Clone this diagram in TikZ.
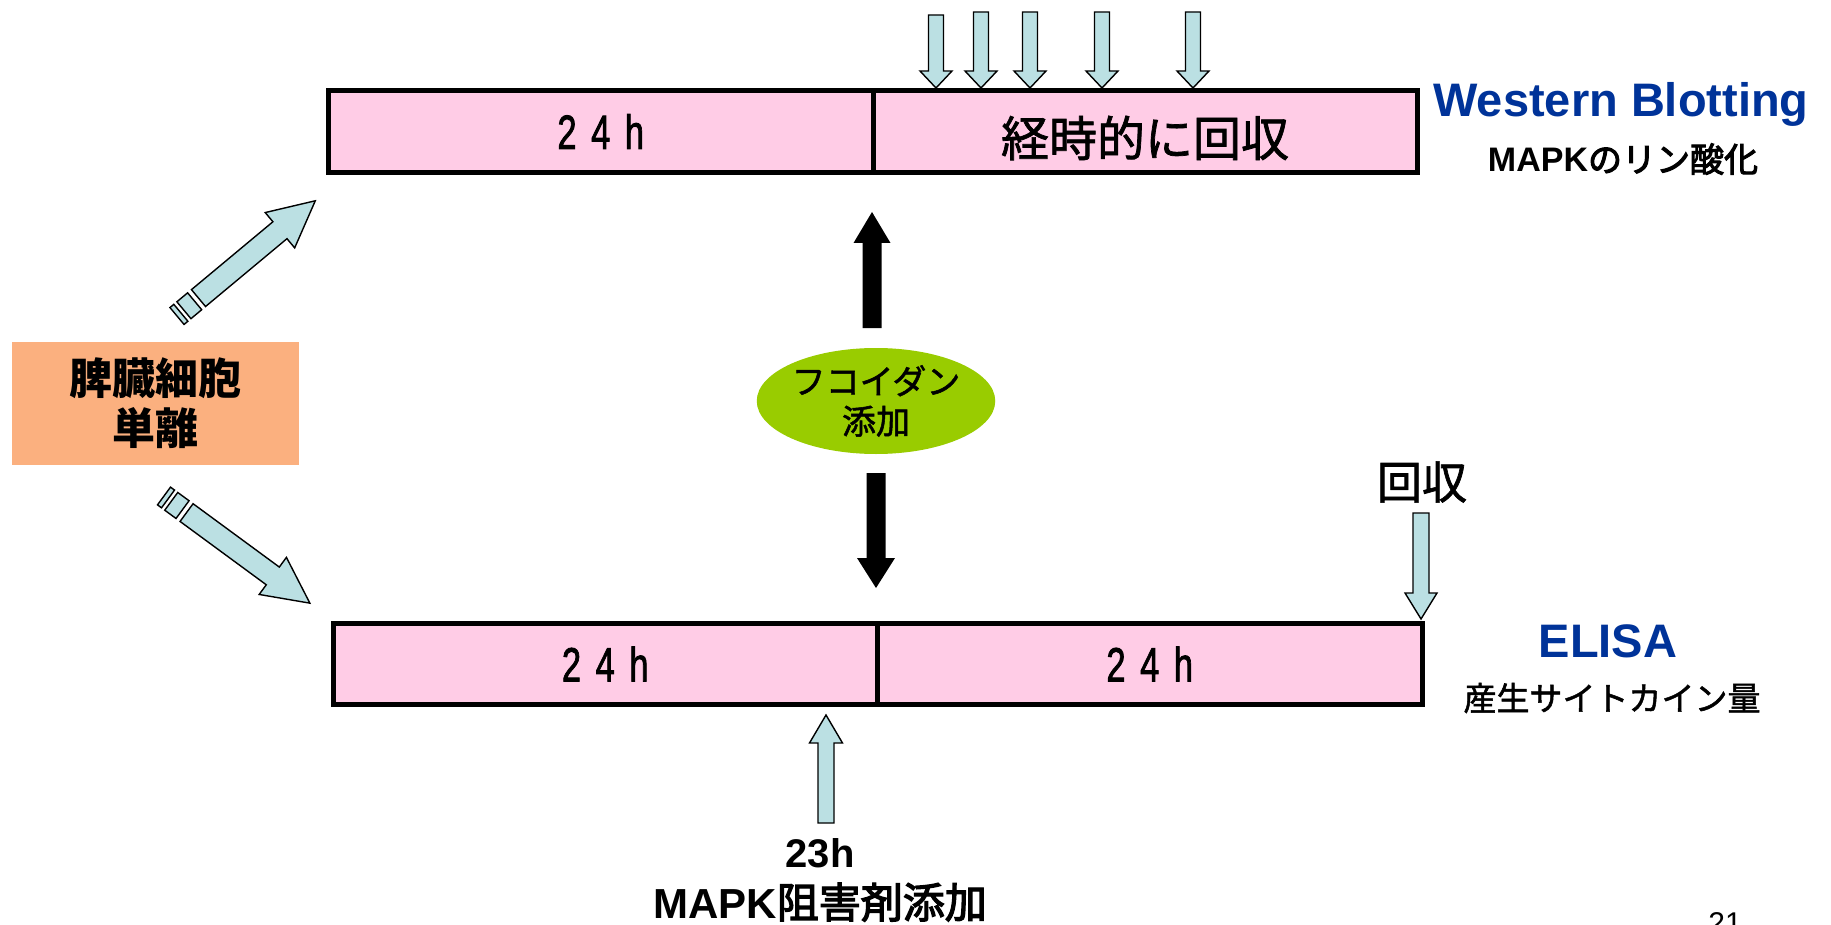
\documentclass[tikz,border=0pt]{standalone}
\usepackage{fontspec}
\usetikzlibrary{shapes.geometric}
\setmainfont{Liberation Sans}
\newfontfamily\jp[FakeBold=1.5]{Noto Sans CJK JP}
\newfontfamily\jpm[FakeBold=3]{Noto Sans CJK JP}
\newfontfamily\jpb{Noto Sans CJK JP}
\newfontfamily\hrsfont[FakeBold=2]{Liberation Sans}
\definecolor{barpink}{HTML}{FFCCE6}
\definecolor{arrowblue}{HTML}{BBE0E3}
\definecolor{boxorange}{HTML}{FBB07F}
\definecolor{fucgreen}{HTML}{99CC00}
\definecolor{titleblue}{HTML}{003399}
\newcommand\fs[1]{\fontsize{#1pt}{1.2\dimexpr#1pt\relax}\selectfont}
\newcommand\hrstext{{\hrsfont\fs{24}\scalebox{0.72}[1]{2\hspace{0.42em}4\hspace{0.42em}h}}}
% vertical block arrow: style, x, tail y, tip y, shaft half, head half, head base y
\newcommand\varrow[7]{\path[#1] (#2-#5,#3) -- (#2+#5,#3) -- (#2+#5,#7) -- (#2+#6,#7) -- (#2,#4) -- (#2-#6,#7) -- (#2-#5,#7) -- cycle;}
% striped arrow: style, shift, rotation, length
\newcommand\stripearrow[4]{\begin{scope}[shift={#2},rotate=#3]
  \path[#1] (0,-11) rectangle (5,11);
  \path[#1] (9,-11) rectangle (23,11);
  \path[#1] (28,-11) -- (#4-46,-11) -- (#4-46,-23) -- (#4,0) -- (#4-46,23) -- (#4-46,11) -- (28,11) -- cycle;
\end{scope}}
\begin{document}
\begin{tikzpicture}[x=0.5pt,y=-0.5pt,
  seg/.style={draw=black,line width=2.5pt,fill=barpink,inner sep=0pt},
  bluearrow/.style={draw=black,line width=0.7pt,fill=arrowblue,line join=miter},
  blackarrow/.style={fill=black},
  jptext/.style={font=\jp\fs{#1},inner sep=0pt},
  title/.style={font=\bfseries\fs{23.5},text=titleblue,inner sep=0pt,anchor=base}]
\useasboundingbox (0,0) rectangle (1831,925);
\clip (0,0) rectangle (1831,925);
\fill[white] (0,0) rectangle (1831,925);

% top bar
\node[seg,minimum width=272.25pt,minimum height=41pt] (top1) at (600.75,131.5) {\hrstext};
\node[seg,minimum width=272.25pt,minimum height=41pt] (top2) at (1145.25,131.5) {};
\node[jptext=24] (top2txt) at (1145,138) {経時的に回収};

% bottom bar
\node[seg,minimum width=271.75pt,minimum height=40.5pt] (bot1) at (605.25,664) {\hrstext};
\node[seg,minimum width=272.75pt,minimum height=40.5pt] (bot2) at (1149.75,664) {\hrstext};

% top sampling arrows
\varrow{bluearrow}{936}{15}{88}{7.5}{16}{71}
\varrow{bluearrow}{981}{12}{88}{7.5}{16}{71}
\varrow{bluearrow}{1030}{12}{88}{7.5}{16}{71}
\varrow{bluearrow}{1102}{12}{88}{7.5}{16}{71}
\varrow{bluearrow}{1193}{12}{88}{7.5}{16}{71}

% bottom collection arrow and label
\varrow{bluearrow}{1421}{513}{619}{8}{16}{593}
\node[jptext=22.5] (kaishu) at (1422,482) {回収};

% inhibitor arrow
\varrow{bluearrow}{826}{823}{715}{8}{16.5}{743}
\node[font=\bfseries\fs{20},inner sep=0pt,anchor=base] (t23h) at (820,867) {23h};
\node[inner sep=0pt,anchor=base] (inhib) at (820,918) {\fs{21}\textbf{MAPK}{\jpm 阻害剤添加}};

% fucoidan
\node[ellipse,fill=fucgreen,minimum width=114pt,minimum height=53pt,inner sep=0pt,align=center,font=\jp\fontsize{17pt}{20pt}\selectfont] (fuc) at (876,401) {フコイダン\\添加};
\varrow{blackarrow}{872}{328}{212}{9.5}{18.5}{243}
\varrow{blackarrow}{876}{473}{588}{9.5}{19}{558}

% spleen cells box
\node[fill=boxorange,minimum width=143.5pt,minimum height=61.5pt,inner sep=0pt,align=center,font=\jpb\bfseries\fontsize{21.5pt}{25pt}\selectfont] (cells) at (155.5,403.5) {脾臓細胞\\単離};
\stripearrow{bluearrow}{(177,316)}{39.8}{180}
\stripearrow{bluearrow}{(164,496)}{-36.3}{181}

% right labels
\node[title] (wb) at (1621,117) {Western Blotting};
\node[inner sep=0pt,anchor=base] (wbsub) at (1623,172) {\fs{17}\textbf{MAPK}{\jpm のリン酸化}};
\node[title] (elisa) at (1608,657) {ELISA};
\node[jptext=16.5] (elisasub) at (1612,698) {産生サイトカイン量};

% page number (cut off by the lower edge, as in the reference)
\node[font=\fs{15},inner sep=0pt,anchor=base] (pg) at (1725,933.5) {21};
\end{tikzpicture}
\end{document}
